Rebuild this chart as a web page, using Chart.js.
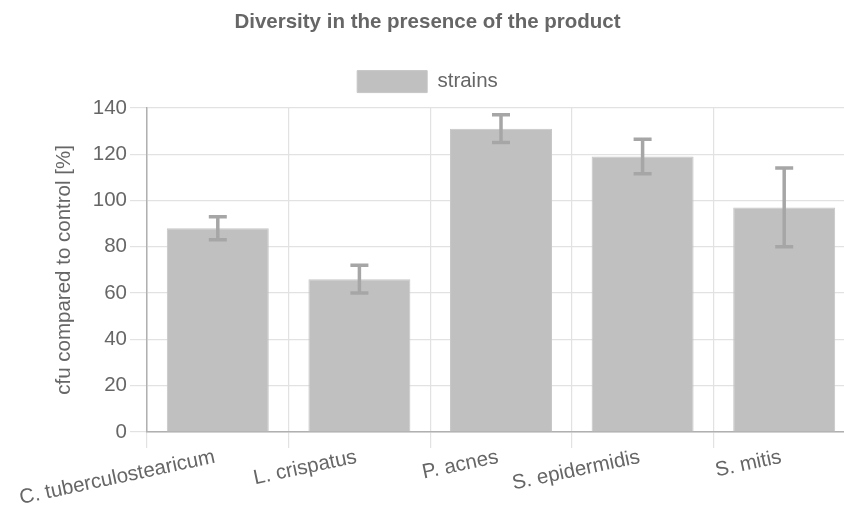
<!DOCTYPE html>
<html>
<head>
<meta charset="utf-8">
<script src="https://cdn.jsdelivr.net/npm/chart.js@4"></script>
<style>
html,body{margin:0;padding:0;background:#fff;overflow:hidden;}
#wrap{width:844px;height:510px;overflow:hidden;}
canvas{display:block;}
</style>
</head>
<body>
<div id="wrap"><canvas id="c" width="856" height="510"></canvas></div>
<script>
const categories = ["C. tuberculostearicum", "L. crispatus", "P. acnes", "S. epidermidis", "S. mitis"];
const values = [88, 66, 131, 119, 97];
const errorLow = [83, 60, 125, 111.5, 80];
const errorHigh = [93, 72, 137, 126.5, 114];
const yTicks = [0, 20, 40, 60, 80, 100, 120, 140];
const seriesName = "strains";

const errorBarPlugin = {
  id: 'errorBars',
  afterDatasetsDraw(chart) {
    const ctx = chart.ctx;
    const meta = chart.getDatasetMeta(0);
    const y = chart.scales.y;
    ctx.save();
    ctx.strokeStyle = '#a6a6a6';
    ctx.lineWidth = 3.5;
    meta.data.forEach((bar, i) => {
      const x = bar.x;
      const top = y.getPixelForValue(errorHigh[i]);
      const bot = y.getPixelForValue(errorLow[i]);
      const cap = 9;
      ctx.beginPath();
      ctx.moveTo(x, top); ctx.lineTo(x, bot);
      ctx.moveTo(x - cap, top); ctx.lineTo(x + cap, top);
      ctx.moveTo(x - cap, bot); ctx.lineTo(x + cap, bot);
      ctx.stroke();
    });
    ctx.restore();
  }
};

Chart.defaults.font.family = "'Liberation Sans', Arial, sans-serif";
Chart.defaults.color = '#666';
const FS = 20.5;

new Chart(document.getElementById('c'), {
  type: 'bar',
  data: {
    labels: categories,
    datasets: [{
      label: seriesName,
      data: values,
      backgroundColor: '#c0c0c0',
      borderColor: '#c6c6c6',
      borderWidth: 1
    }]
  },
  options: {
    responsive: false,
    animation: false,
    layout: { padding: { left: 0, right: 1, top: 0, bottom: 0 } },
    plugins: {
      title: {
        display: true,
        text: 'Diversity in the presence of the product',
        font: { size: FS, weight: 'bold' },
        color: '#666',
        padding: { top: 10, bottom: 19 }
      },
      subtitle: {
        display: true,
        text: ' ',
        weight: 500,
        font: { size: 4.4 },
        padding: 0
      },
      legend: {
        labels: { boxWidth: 70, boxHeight: 22, font: { size: FS }, color: '#666', padding: 17 }
      },
      tooltip: { enabled: false }
    },
    scales: {
      x: {
        grid: { color: '#e2e2e2', lineWidth: 1.2, tickLength: 16 },
        border: { color: '#b0b0b0', width: 1.5 },
        ticks: { font: { size: FS }, color: '#666', minRotation: 12, maxRotation: 12, padding: -3, labelOffset: -3 },
        afterFit(scale) { scale.height = 78; }
      },
      y: {
        min: 0, max: 140,
        afterBuildTicks(axis) { axis.ticks = yTicks.map(v => ({ value: v })); },
        grid: { color: '#e2e2e2', lineWidth: 1.2, tickLength: 17 },
        border: { color: '#b0b0b0', width: 1.5 },
        ticks: { font: { size: FS }, color: '#666', padding: 3 },
        title: { display: true, text: 'cfu compared to control [%]', font: { size: FS }, color: '#666', padding: { top: 52.5, bottom: 4 } },
        afterFit(scale) { scale.width = 147; }
      }
    }
  },
  plugins: [errorBarPlugin]
});
</script>
</body>
</html>
